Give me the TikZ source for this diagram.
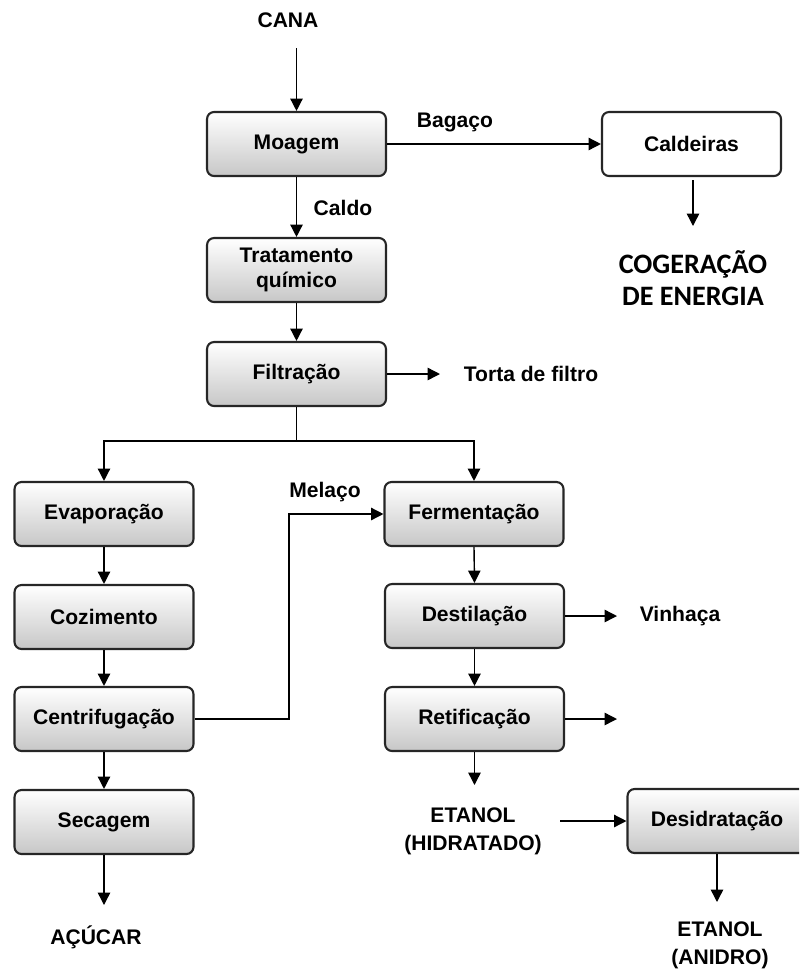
\documentclass[tikz,border=0pt]{standalone}
\usepackage{fontspec}
\setmainfont{Liberation Sans}
\newfontfamily\calfont{Carlito}
\usetikzlibrary{arrows.meta}

\begin{document}
\begin{tikzpicture}[x=0.02cm,y=-0.02cm,
  every node/.style={font=\fontsize{12}{14}\selectfont\bfseries},
  proc/.style={draw=black!85, line width=1.2pt, rounded corners=4pt,
    top color=white, bottom color=black!22, minimum width=3.58cm,
    minimum height=1.28cm, inner sep=0pt, align=center},
  plainbox/.style={proc, top color=white, bottom color=white},
  lbl/.style={align=center, inner sep=0pt},
  big/.style={align=center, inner sep=0pt, font=\calfont\fontsize{16}{18}\selectfont\bfseries},
  arr/.style={-{Triangle[length=7pt,width=7pt]}, line width=0.8pt},
  ln/.style={line width=0.8pt}]

\useasboundingbox (0,0) rectangle (799,971);
\clip (0,0) rectangle (799,971);

% process boxes
\node[proc] (moagem) at (296.5,144) {Moagem};
\node[plainbox] (caldeiras) at (691.5,144) {Caldeiras};
\node[proc] (trat) at (296.5,270) {Tratamento\\químico};
\node[proc] (filt) at (296.5,374) {Filtração};
\node[proc] (evap) at (104,514) {Evaporação};
\node[proc] (coz) at (104,617) {Cozimento};
\node[proc] (cent) at (104,719) {Centrifugação};
\node[proc] (sec) at (104,822) {Secagem};
\node[proc] (ferm) at (474,514) {Fermentação};
\node[proc] (dest) at (474.5,616) {Destilação};
\node[proc] (ret) at (474.5,719) {Retificação};
\node[proc] (desid) at (717,821) {Desidratação};

% inputs and products
\node[lbl] (cana) at (288,20) {CANA};
\node[lbl] (acucar) at (96,937) {AÇÚCAR};
\node[lbl] (etanolh) at (473,831) {ETANOL\\[2pt](HIDRATADO)};
\node[lbl] (etanola) at (720,945) {ETANOL\\[2pt](ANIDRO)};
\node[big] (cogen) at (693,278) {COGERAÇÃO\\DE ENERGIA};
\node[lbl] (torta) at (531,374) {Torta de filtro};
\node[lbl] (vinhaca) at (680,616) {Vinhaça};
\node[lbl] (bagaco) at (455,122) {Bagaço};
\node[lbl] (caldo) at (343,208) {Caldo};
\node[lbl] (melaco) at (325,492) {Melaço};

% free ends of connectors
\coordinate (canaend) at (296.5,48);
\coordinate (calend) at (693,180);
\coordinate (cogtop) at (693,226);
\coordinate (tortaend) at (440,374);
\coordinate (split) at (296.5,441);
\coordinate (acend) at (104,905);
\coordinate (melbend) at (289,719);
\coordinate (vinend) at (617,616);
\coordinate (retend) at (617,719);
\coordinate (hidend) at (474.5,785);
\coordinate (hidout) at (560,821);
\coordinate (anend) at (717,902);

% connectors
\draw[arr] (canaend) -- (moagem.north);
\draw[arr] (moagem.east) -- (caldeiras.west);
\draw[arr] (calend) -- (cogtop);
\draw[arr] (moagem.south) -- (trat.north);
\draw[arr] (trat.south) -- (filt.north);
\draw[arr] (filt.east) -- (tortaend);
\draw[ln] (filt.south) -- (split);
\draw[arr] (split) -| (evap.north);
\draw[arr] (split) -| (ferm.north);
\draw[arr] (evap.south) -- (coz.north);
\draw[arr] (coz.south) -- (cent.north);
\draw[arr] (cent.south) -- (sec.north);
\draw[arr] (sec.south) -- (acend);
\draw[arr] (cent.east) -- (melbend) |- (ferm.west);
\draw[arr] (ferm.south) -- (dest.north);
\draw[arr] (dest.south) -- (ret.north);
\draw[arr] (dest.east) -- (vinend);
\draw[arr] (ret.east) -- (retend);
\draw[arr] (ret.south) -- (hidend);
\draw[arr] (hidout) -- (desid.west);
\draw[arr] (desid.south) -- (anend);
\end{tikzpicture}
\end{document}
